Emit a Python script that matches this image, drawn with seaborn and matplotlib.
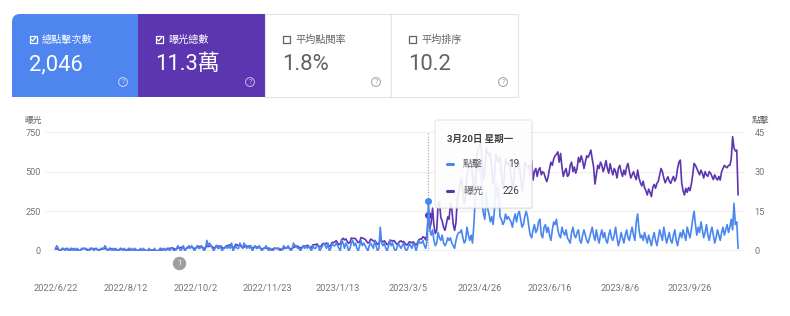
import numpy as np
import pandas as pd
import matplotlib
matplotlib.use("Agg")
import matplotlib.pyplot as plt
import matplotlib.transforms as mtransforms
from matplotlib.patches import FancyBboxPatch, Rectangle, Circle
import seaborn as sns

# ---------------- data (daily, grouped by week, first day 2022-06-22) ----------------
start_date = "2022-06-22"

impressions_weeks = [
    [12, 15, 10, 6, 5, 14, 11], [10, 12, 9, 5, 6, 13, 12], [11, 10, 8, 4, 5, 12, 14],
    [15, 13, 10, 6, 7, 16, 14], [12, 14, 11, 7, 6, 13, 12], [14, 16, 12, 6, 8, 15, 13],
    [11, 12, 9, 5, 6, 10, 11], [9, 11, 8, 4, 5, 10, 9], [8, 10, 7, 4, 3, 9, 8],
    [7, 8, 6, 3, 2, 6, 7], [5, 6, 4, 2, 2, 5, 6], [8, 10, 12, 9, 10, 15, 16],
    [18, 20, 15, 10, 12, 20, 22], [20, 24, 18, 12, 14, 25, 22], [22, 26, 20, 15, 18, 28, 30],
    [25, 30, 22, 16, 20, 32, 28], [30, 34, 25, 18, 22, 35, 30], [28, 32, 24, 16, 20, 30, 34],
    [36, 40, 30, 22, 25, 42, 38], [34, 36, 28, 20, 24, 34, 30], [28, 32, 26, 18, 22, 28, 26],
    [22, 24, 18, 12, 14, 20, 18], [16, 18, 14, 10, 12, 18, 16], [15, 17, 13, 9, 11, 18, 20],
    [20, 22, 17, 12, 14, 24, 26], [28, 30, 24, 18, 22, 32, 30], [32, 36, 28, 20, 24, 38, 40],
    [40, 44, 34, 26, 30, 46, 44], [45, 50, 40, 30, 35, 55, 52], [58, 65, 50, 40, 45, 72, 80],
    [70, 76, 60, 48, 55, 82, 78], [80, 78, 64, 52, 58, 85, 82], [78, 74, 62, 50, 55, 75, 70],
    [62, 66, 54, 42, 46, 70, 64], [58, 64, 52, 40, 45, 68, 66], [62, 66, 54, 42, 48, 60, 64],
    [56, 60, 48, 38, 42, 58, 55], [52, 58, 46, 38, 50, 70, 76], [75, 90, 85, 70, 110, 226, 140],
    [180, 270, 160, 110, 130, 290, 310], [210, 190, 150, 130, 170, 215, 200],
    [300, 260, 170, 130, 180, 330, 380], [420, 460, 380, 300, 340, 480, 510],
    [540, 580, 470, 380, 430, 600, 640], [660, 690, 560, 450, 500, 650, 620],
    [600, 620, 520, 420, 470, 610, 580], [560, 590, 490, 400, 450, 580, 550],
    [540, 560, 470, 390, 440, 560, 530], [520, 550, 460, 380, 430, 560, 540],
    [530, 540, 480, 573, 447, 500, 520], [470, 510, 525, 480, 500, 490, 460],
    [437, 470, 520, 560, 540, 580, 600], [610, 625, 560, 615, 530, 470, 500],
    [520, 470, 480, 540, 560, 500, 530], [490, 520, 590, 560, 600, 570, 520],
    [560, 600, 590, 610, 636, 580, 530], [422, 480, 540, 520, 560, 540, 500],
    [530, 570, 520, 490, 550, 510, 480], [520, 500, 460, 520, 540, 500, 470],
    [510, 480, 530, 552, 500, 460, 480], [500, 470, 450, 510, 460, 430, 410],
    [440, 400, 380, 353, 390, 370, 343], [400, 420, 395, 426, 440, 480, 520],
    [500, 460, 430, 450, 468, 440, 426], [450, 470, 440, 460, 520, 560, 573],
    [430, 380, 353, 395, 370, 400, 380], [420, 480, 552, 540, 520, 500, 480],
    [510, 490, 460, 500, 480, 470, 500], [490, 470, 450, 480, 460, 447, 470],
    [447, 500, 520, 540, 530, 525, 540], [540, 580, 720, 650, 630, 636, 353],
]

clicks_weeks = [
    [1, 2, 1, 0, 0, 1, 1], [0, 1, 1, 0, 1, 1, 0], [1, 0, 1, 0, 0, 1, 1],
    [1, 1, 0, 0, 1, 1, 1], [0, 1, 1, 0, 0, 1, 1], [1, 2, 1, 0, 1, 1, 0],
    [1, 0, 1, 0, 0, 1, 1], [0, 1, 0, 0, 1, 1, 0], [1, 0, 1, 0, 0, 0, 1],
    [0, 1, 0, 0, 0, 1, 0], [0, 0, 1, 0, 0, 0, 1], [1, 0, 1, 0, 1, 1, 0],
    [1, 1, 0, 0, 1, 2, 1], [0, 1, 2, 0, 1, 1, 2], [1, 2, 1, 0, 1, 2, 1],
    [1, 2, 1, 0, 1, 4, 2], [3, 2, 1, 0, 1, 2, 1], [1, 2, 0, 1, 1, 2, 1],
    [2, 1, 3, 0, 1, 2, 1], [1, 3, 2, 1, 3, 2, 1], [2, 1, 2, 0, 1, 2, 1],
    [1, 2, 1, 0, 1, 1, 2], [1, 0, 1, 0, 0, 1, 1], [1, 1, 0, 0, 1, 2, 1],
    [1, 2, 1, 0, 1, 3, 2], [2, 1, 1, 0, 1, 2, 1], [2, 1, 2, 1, 0, 2, 1],
    [1, 2, 2, 0, 1, 2, 3], [2, 1, 3, 0, 1, 3, 2], [2, 3, 2, 1, 0, 4, 3],
    [1, 3, 2, 0, 1, 3, 4], [2, 3, 1, 0, 2, 4, 2], [3, 2, 1, 0, 2, 3, 2],
    [1, 4, 2, 0, 1, 9, 3], [2, 3, 1, 0, 2, 4, 2], [3, 1, 0, 1, 3, 2, 1],
    [2, 3, 1, 0, 1, 3, 2], [1, 3, 2, 0, 2, 4, 3], [3, 4, 2, 1, 4, 19, 8],
    [6, 8, 4, 2, 3, 7, 5], [4, 6, 3, 2, 3, 5, 4], [5, 3, 2, 1, 4, 6, 7],
    [7, 8, 5, 3, 4, 9, 6], [4, 6, 3, 10, 20, 30, 34], [30, 34, 18, 14, 12, 22, 16],
    [14, 11, 13, 10, 16, 26, 20], [24, 13, 12, 10, 11, 14, 12], [13, 12, 11, 9, 12, 14, 11],
    [14, 15, 12, 9, 10, 13, 15], [13, 9, 6, 5, 8, 10, 7], [8, 11, 12, 6, 5, 9, 10],
    [7, 9, 6, 4, 8, 11, 10], [12, 8, 6, 5, 9, 7, 6], [8, 5, 4, 3, 7, 9, 6],
    [5, 7, 8, 4, 3, 6, 8], [6, 4, 3, 5, 7, 9, 6], [4, 8, 5, 3, 6, 8, 5],
    [7, 4, 3, 6, 8, 5, 4], [6, 9, 5, 2, 4, 7, 5], [3, 6, 8, 5, 4, 7, 9],
    [6, 4, 11, 14, 8, 5, 6], [4, 7, 5, 3, 6, 4, 2], [5, 7, 4, 2, 5, 8, 6],
    [4, 9, 6, 3, 5, 7, 4], [3, 6, 8, 4, 2, 5, 7], [5, 8, 6, 4, 9, 7, 5],
    [8, 12, 15, 10, 6, 9, 7], [11, 8, 5, 7, 10, 6, 4], [7, 9, 6, 3, 5, 8, 6],
    [4, 7, 9, 6, 8, 10, 7], [9, 12, 8, 18, 10, 11, 1],
]

tick_labels = ["2022/6/22", "2022/8/12", "2022/10/2", "2022/11/23", "2023/1/13",
               "2023/3/5", "2023/4/26", "2023/6/16", "2023/8/6", "2023/9/26"]
left_ticks = [0, 250, 500, 750]
right_ticks = [0, 15, 30, 45]
card_titles = ["總點擊次數", "曝光總數", "平均點閱率", "平均排序"]
card_values = ["2,046", "11.3萬", "1.8%", "10.2"]
card_checked = [True, True, False, False]
series_names = ["點擊", "曝光"]
axis_titles = ["曝光", "點擊"]
tooltip_date = "2023-03-20"
tooltip_title = "3月20日 星期一"
annotation_date = "2022-09-20"
annotation_text = "1"

# ---------------- build frame ----------------
impressions = [v for w in impressions_weeks for v in w]
clicks = [v for w in clicks_weeks for v in w]
dates = pd.date_range(start_date, periods=len(impressions), freq="D")
df = pd.DataFrame({"date": dates, "impressions": impressions, "clicks": clicks})

BLUE = "#4a86f0"
PURPLE = "#5e35b1"
CARD_BLUE = "#4e85ee"
CARD_PURPLE = "#5b36b0"
GREY_TXT = "#757575"

sns.set_theme(style="white")
plt.rcParams["font.family"] = ["Roboto", "Noto Sans CJK TC", "DejaVu Sans"]

W, H = 790, 316
fig = plt.figure(figsize=(W / 100, H / 100), dpi=100)
L, R, T, B = 45, 745, 132, 251
ax = fig.add_axes([L / W, 1 - B / H, (R - L) / W, (B - T) / H])

sns.lineplot(data=df, x="date", y="impressions", ax=ax, color=PURPLE, linewidth=1.2)
ax2 = ax.twinx()
sns.lineplot(data=df, x="date", y="clicks", ax=ax2, color=BLUE, linewidth=1.2)

ax.set_ylim(0, 750)
ax2.set_ylim(0, 45)
ax.set_xlim(dates[0] - pd.Timedelta(days=7.6), dates[-1] + pd.Timedelta(days=5))
for a in (ax, ax2):
    a.set_xlabel("")
    a.set_ylabel("")
    for s in a.spines.values():
        s.set_visible(False)

ax.set_yticks(left_ticks)
ax.set_yticklabels([str(t) for t in left_ticks])
ax2.set_yticks(right_ticks)
ax2.set_yticklabels([str(t) for t in right_ticks])
ax.grid(axis="y", color="#ededed", linewidth=0.8)
ax.set_axisbelow(True)
ax.axhline(0, color="#a0a0a0", linewidth=0.9, zorder=1)
ax.tick_params(axis="y", length=0, pad=3, labelsize=6.6, labelcolor=GREY_TXT)
ax2.tick_params(axis="y", length=0, pad=7, labelsize=6.6, labelcolor=GREY_TXT)

tick_dates = pd.to_datetime(tick_labels, format="%Y/%m/%d")
ax.set_xticks(tick_dates)
ax.set_xticklabels(tick_labels)
ax.tick_params(axis="x", length=0, pad=24, labelsize=6.7, labelcolor=GREY_TXT)

# axis titles
ax.text(-0.005, 1.10, axis_titles[0], transform=ax.transAxes, ha="right", va="center",
        fontsize=6.3, color="#5f6368")
ax2.text(1.01, 1.10, axis_titles[1], transform=ax2.transAxes, ha="left", va="center",
         fontsize=6.3, color="#5f6368")

# hover line and points
td = pd.Timestamp(tooltip_date)
row = df[df["date"] == td].iloc[0]
ax.vlines(td, 0, 750, colors="#9e9e9e", linewidth=0.8, linestyles=(0, (1, 1.5)), zorder=2)
ax.scatter([td], [row["impressions"]], s=16, color=PURPLE, zorder=5)
ax2.scatter([td], [row["clicks"]], s=16, color=BLUE, zorder=5)

# annotation marker
tr = mtransforms.blended_transform_factory(ax.transData, ax.transAxes)
ad = pd.Timestamp(annotation_date)
ax.scatter([ad], [-0.097], s=75, color="#9e9e9e", transform=tr, clip_on=False, zorder=6)
ax.text(ad, -0.097, annotation_text, transform=tr, ha="center", va="center",
        fontsize=5.5, color="white", zorder=7)

# ---------------- overlay (cards + tooltip) ----------------
ov = fig.add_axes([0, 0, 1, 1])
ov.set_xlim(0, W)
ov.set_ylim(H, 0)
ov.axis("off")

cards = [(12, 138), (138, 265), (265, 391), (391, 518)]
top, bot = 14, 97
for i, (x0, x1) in enumerate(cards):
    if i == 0:
        fc, tc, ic = CARD_BLUE, "white", "#c9d9fb"
        ov.add_patch(FancyBboxPatch((x0, top), x1 - x0, bot - top,
                                    boxstyle="round,pad=0,rounding_size=8", fc=fc, lw=0))
        ov.add_patch(Rectangle((x0 + 12, top), x1 - x0 - 12, bot - top, fc=fc, lw=0))
        ov.add_patch(Rectangle((x0, top + 12), x1 - x0, bot - top - 12, fc=fc, lw=0))
    elif i == 1:
        fc, tc, ic = CARD_PURPLE, "white", "#c8bde6"
        ov.add_patch(Rectangle((x0, top), x1 - x0, bot - top, fc=fc, lw=0))
    else:
        fc, tc, ic = "white", "#5f6368", "#9e9e9e"
        ov.add_patch(Rectangle((x0, top), x1 - x0, bot - top, fc=fc, ec="#e3e3e3", lw=0.8))
    cx = x0 + 17.5
    # checkbox
    ov.add_patch(Rectangle((cx, 35.5), 7.5, 7.5, fill=False, ec=tc, lw=0.9))
    if card_checked[i]:
        ov.plot([cx + 1.6, cx + 3.2, cx + 6.0], [39.4, 41.0, 37.4], color=tc, lw=0.9,
                solid_capstyle="round")
    ov.text(cx + 12.5, 39.5, card_titles[i], ha="left", va="center", fontsize=7.3, color=tc)
    ov.text(cx - 0.5, 70, card_values[i], ha="left", va="baseline", fontsize=15.8, color=tc)
    # help icon
    hx = x1 - 15
    ov.add_patch(Circle((hx, 82), 4.4, fill=False, ec=ic, lw=0.7))
    ov.text(hx, 82.3, "?", ha="center", va="center", fontsize=5, color=ic)

# tooltip
tx, ty, tw, th = 435, 120, 97, 88
ov.add_patch(FancyBboxPatch((tx + 0.8, ty + 1.5), tw, th, boxstyle="round,pad=0,rounding_size=2",
                            fc="black", alpha=0.07, lw=0))
ov.add_patch(FancyBboxPatch((tx, ty), tw, th, boxstyle="round,pad=0,rounding_size=2",
                            fc=(1, 1, 1, 0.9), ec="#e4e4e4", lw=0.7))
ov.text(tx + 12, 139, tooltip_title, ha="left", va="center", fontsize=6.8,
        fontweight="bold", color="#3c4043")
rows = [(series_names[0], int(row["clicks"]), BLUE, 164),
        (series_names[1], int(row["impressions"]), PURPLE, 191)]
for name, val, col, yy in rows:
    ov.plot([tx + 12, tx + 18], [yy, yy], color=col, lw=2.2, solid_capstyle="round")
    ov.text(tx + 28, yy, name, ha="left", va="center", fontsize=7.2, color="#5f6368")
    ov.text(tx + 84, yy, f"{val}", ha="right", va="center", fontsize=7.2, color="#3c4043")

fig.savefig("out.png", dpi=100)
